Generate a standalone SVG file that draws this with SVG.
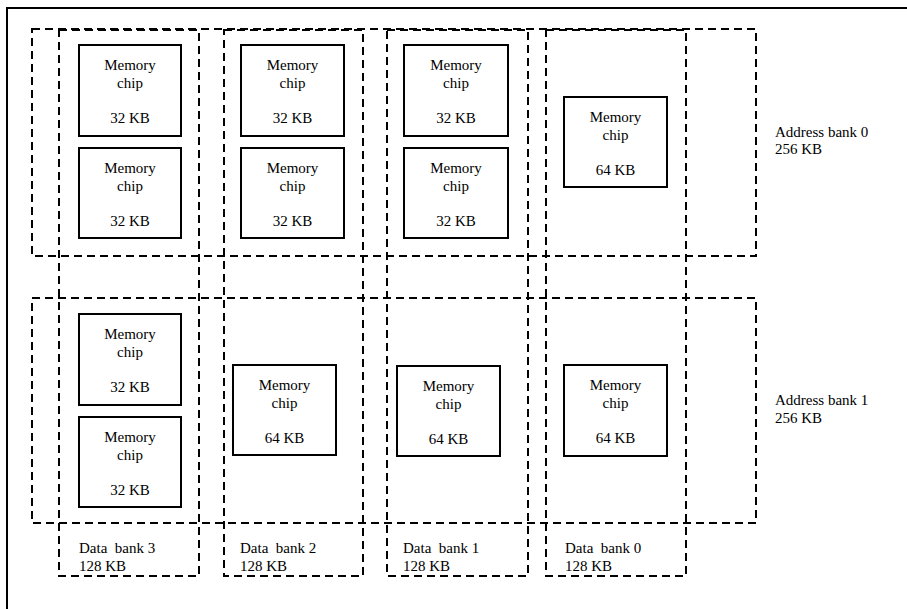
<svg xmlns="http://www.w3.org/2000/svg" width="907" height="609" viewBox="0 0 907 609">
  <style>
    .frame { fill: none; stroke: #000; stroke-width: 2; }
    .bank { fill: none; stroke: #000; stroke-width: 2; stroke-dasharray: 8 5; }
    .chip rect { fill: #fff; stroke: #000; stroke-width: 2; }
    text { font-family: "Liberation Serif", Tinos, "DejaVu Serif", "Times New Roman", serif; font-size: 15px; fill: #000; }
    .chip text { text-anchor: middle; }
    .lbl { white-space: pre; }
  </style>
  <rect width="907" height="609" fill="#fff"/>

  <!-- outer frame (open at the right and bottom) -->
  <path class="frame" d="M7 609 V8 H907"/>

  <!-- bank outlines -->
  <g id="banks">
    <rect id="address-bank-0" class="bank" x="32" y="29" width="724" height="227"/>
    <rect id="address-bank-1" class="bank" x="32" y="298" width="724" height="225"/>
    <rect id="data-bank-3" class="bank" x="59" y="30" width="140" height="546"/>
    <rect id="data-bank-2" class="bank" x="224" y="30" width="139" height="546"/>
    <rect id="data-bank-1" class="bank" x="387" y="30" width="141" height="546"/>
    <rect id="data-bank-0" class="bank" x="546" y="30" width="140" height="546"/>
  </g>

  <g font-family="Liberation Serif, serif" font-size="15">
  <!-- address bank 0 chips -->
  <g id="chip-a0-d3-top" class="chip">
    <rect x="79" y="45" width="102" height="91"/>
    <text x="130" y="70">Memory</text><text x="130" y="87.5">chip</text><text x="130" y="122.5">32 KB</text>
  </g>
  <g id="chip-a0-d3-bottom" class="chip">
    <rect x="79" y="148" width="102" height="90"/>
    <text x="130" y="173">Memory</text><text x="130" y="190.5">chip</text><text x="130" y="225.5">32 KB</text>
  </g>
  <g id="chip-a0-d2-top" class="chip">
    <rect x="241" y="45" width="103" height="91"/>
    <text x="292.5" y="70">Memory</text><text x="292.5" y="87.5">chip</text><text x="292.5" y="122.5">32 KB</text>
  </g>
  <g id="chip-a0-d2-bottom" class="chip">
    <rect x="241" y="148" width="103" height="90"/>
    <text x="292.5" y="173">Memory</text><text x="292.5" y="190.5">chip</text><text x="292.5" y="225.5">32 KB</text>
  </g>
  <g id="chip-a0-d1-top" class="chip">
    <rect x="404" y="45" width="104" height="91"/>
    <text x="456" y="70">Memory</text><text x="456" y="87.5">chip</text><text x="456" y="122.5">32 KB</text>
  </g>
  <g id="chip-a0-d1-bottom" class="chip">
    <rect x="404" y="148" width="104" height="90"/>
    <text x="456" y="173">Memory</text><text x="456" y="190.5">chip</text><text x="456" y="225.5">32 KB</text>
  </g>
  <g id="chip-a0-d0" class="chip">
    <rect x="564" y="97" width="103" height="90"/>
    <text x="615.5" y="122">Memory</text><text x="615.5" y="139.5">chip</text><text x="615.5" y="174.5">64 KB</text>
  </g>

  <!-- address bank 1 chips -->
  <g id="chip-a1-d3-top" class="chip">
    <rect x="79" y="314" width="102" height="91"/>
    <text x="130" y="339">Memory</text><text x="130" y="356.5">chip</text><text x="130" y="391.5">32 KB</text>
  </g>
  <g id="chip-a1-d3-bottom" class="chip">
    <rect x="79" y="417" width="102" height="90"/>
    <text x="130" y="442">Memory</text><text x="130" y="459.5">chip</text><text x="130" y="494.5">32 KB</text>
  </g>
  <g id="chip-a1-d2" class="chip">
    <rect x="233" y="365" width="103" height="90"/>
    <text x="284.5" y="390">Memory</text><text x="284.5" y="407.5">chip</text><text x="284.5" y="442.5">64 KB</text>
  </g>
  <g id="chip-a1-d1" class="chip">
    <rect x="397" y="366" width="103" height="90"/>
    <text x="448.5" y="391">Memory</text><text x="448.5" y="408.5">chip</text><text x="448.5" y="443.5">64 KB</text>
  </g>
  <g id="chip-a1-d0" class="chip">
    <rect x="564" y="365" width="103" height="91"/>
    <text x="615.5" y="390">Memory</text><text x="615.5" y="407.5">chip</text><text x="615.5" y="442.5">64 KB</text>
  </g>

  <!-- labels -->
  <g id="labels">
    <text x="775" y="137">Address bank 0</text>
    <text x="775" y="154">256 KB</text>
    <text x="775" y="405">Address bank 1</text>
    <text x="775" y="423">256 KB</text>
    <text class="lbl" x="79" y="553">Data  bank 3</text>
    <text x="79" y="571">128 KB</text>
    <text class="lbl" x="240" y="553">Data  bank 2</text>
    <text x="240" y="571">128 KB</text>
    <text class="lbl" x="403" y="553">Data  bank 1</text>
    <text x="403" y="571">128 KB</text>
    <text class="lbl" x="565" y="553">Data  bank 0</text>
    <text x="565" y="571">128 KB</text>
  </g>
  </g>
</svg>
